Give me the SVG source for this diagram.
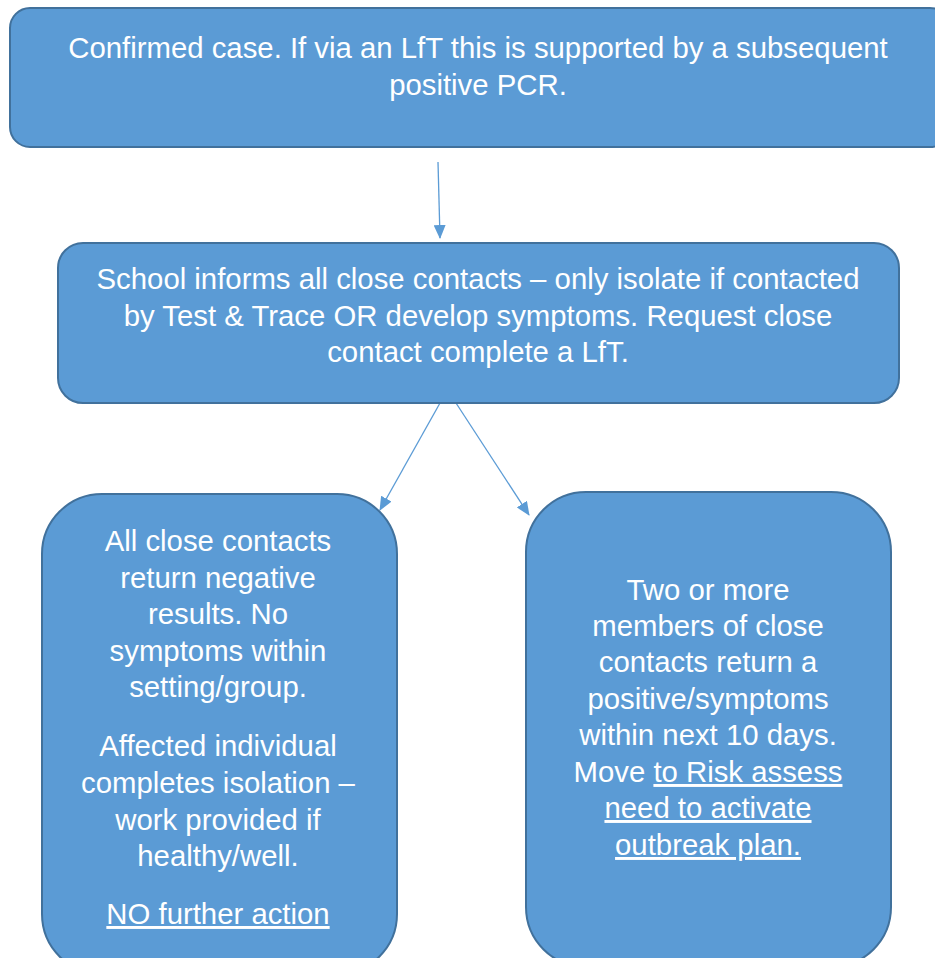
<svg xmlns="http://www.w3.org/2000/svg" width="935" height="958" viewBox="0 0 935 958">
<style>
.box{fill:#5B9BD5;stroke:#41719C;stroke-width:2}
.t{font-family:"Liberation Sans",Arial,sans-serif;font-size:29.33px;fill:#fff;text-anchor:middle}
.u{text-decoration:underline}
.c{stroke:#5B9BD5;stroke-width:1.3;fill:none;marker-end:url(#ah)}
</style>
<defs>
<marker id="ah" markerWidth="14" markerHeight="12" refX="13" refY="6" orient="auto" markerUnits="userSpaceOnUse">
<path d="M0,0 L14,6 L0,12 Z" fill="#5B9BD5"/>
</marker>
</defs>
<rect width="935" height="958" fill="#fff"/>
<g id="connectors">
<line class="c" x1="438" y1="162" x2="440" y2="238"/>
<line class="c" x1="440" y1="403" x2="380" y2="510"/>
<line class="c" x1="456" y1="403" x2="529" y2="515"/>
</g>
<g id="n1">
<rect class="box" x="10" y="8" width="940" height="139" rx="20"/>
<text class="t" x="478" y="58">Confirmed case. If via an LfT this is supported by a subsequent</text>
<text class="t" x="478" y="95">positive PCR.</text>
</g>
<g id="n2">
<rect class="box" x="58" y="243" width="841" height="160" rx="25"/>
<text class="t" x="478" y="289">School informs all close contacts – only isolate if contacted</text>
<text class="t" x="478" y="326">by Test &amp; Trace OR develop symptoms. Request close</text>
<text class="t" x="478" y="362">contact complete a LfT.</text>
</g>
<g id="n3">
<rect class="box" x="42" y="494" width="355" height="480" rx="60"/>
<text class="t" x="218" y="551">All close contacts</text>
<text class="t" x="218" y="588">return negative</text>
<text class="t" x="218" y="624">results. No</text>
<text class="t" x="218" y="661">symptoms within</text>
<text class="t" x="218" y="697">setting/group.</text>
<text class="t" x="218" y="756">Affected individual</text>
<text class="t" x="218" y="793">completes isolation –</text>
<text class="t" x="218" y="830">work provided if</text>
<text class="t" x="218" y="866">healthy/well.</text>
<text class="t u" x="218" y="924">NO further action</text>
</g>
<g id="n4">
<rect class="box" x="526" y="492" width="365" height="475" rx="60"/>
<text class="t" x="708" y="600">Two or more</text>
<text class="t" x="708" y="636">members of close</text>
<text class="t" x="708" y="672">contacts return a</text>
<text class="t" x="708" y="709">positive/symptoms</text>
<text class="t" x="708" y="745">within next 10 days.</text>
<text class="t" x="708" y="782">Move <tspan class="u">to Risk assess</tspan></text>
<text class="t u" x="708" y="818">need to activate</text>
<text class="t u" x="708" y="855">outbreak plan.</text>
</g>
</svg>
